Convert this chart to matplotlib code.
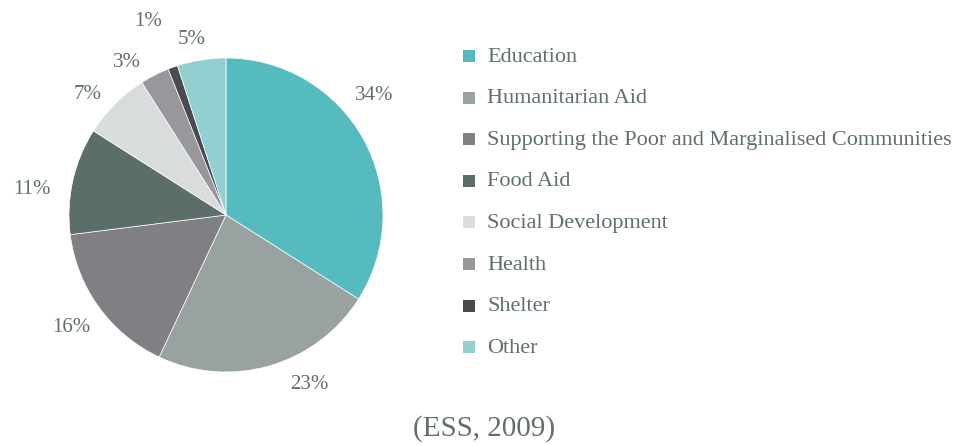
import matplotlib.pyplot as plt
from matplotlib.patches import Rectangle
import numpy as np

categories = ['Education', 'Humanitarian Aid', 'Supporting the Poor and Marginalised Communities',
              'Food Aid', 'Social Development', 'Health', 'Shelter', 'Other']
shares = [34, 23, 16, 11, 7, 3, 1, 5]
colors = ['#56bbbe', '#98a2a0', '#807f84', '#5b6e6a', '#d8dcdd', '#98979c', '#4a4a50', '#92cfd1']
source = '(ESS, 2009)'

# small angular nudges (deg) and radial distance for the percentage labels
label_nudge = [10, 10, 0, 5, 4, 6, 2, 2]
label_dist = [1.21, 1.20, 1.22, 1.25, 1.17, 1.16, 1.33, 1.14]

text_color = '#5f706c'
plt.rcParams['font.family'] = ['Liberation Serif', 'DejaVu Serif']

W, H = 955, 445
fig = plt.figure(figsize=(W / 100, H / 100), dpi=100)

cx, cy, r = 226, 215, 157
ax = fig.add_axes([(cx - r) / W, (H - cy - r) / H, 2 * r / W, 2 * r / H])
wedges, _ = ax.pie(shares, colors=colors, startangle=90, counterclock=False,
                   wedgeprops=dict(linewidth=0.5, edgecolor='white'))
ax.set_xlim(-1, 1)
ax.set_ylim(-1, 1)
ax.set_aspect('equal')

for w, v, dn, d in zip(wedges, shares, label_nudge, label_dist):
    ang = np.deg2rad((w.theta1 + w.theta2) / 2 + dn)
    ax.text(d * np.cos(ang), d * np.sin(ang), f'{v}%', ha='center', va='center',
            fontsize=15, color=text_color, clip_on=False)

# legend drawn row by row in figure pixels
lx, ly0, step = 463, 56, 41.6
for i, (lab, c) in enumerate(zip(categories, colors)):
    y = ly0 + i * step
    fig.patches.append(Rectangle((lx / W, (H - y - 6) / H), 12 / W, 12 / H,
                                 transform=fig.transFigure, facecolor=c, edgecolor='none'))
    fig.text(487 / W, (H - y - 1) / H, lab, ha='left', va='center', fontsize=16, color=text_color)

fig.text(484 / W, (H - 429) / H, source, ha='center', va='center', fontsize=21, color=text_color)

fig.savefig('out.png', dpi=100, facecolor='white')
